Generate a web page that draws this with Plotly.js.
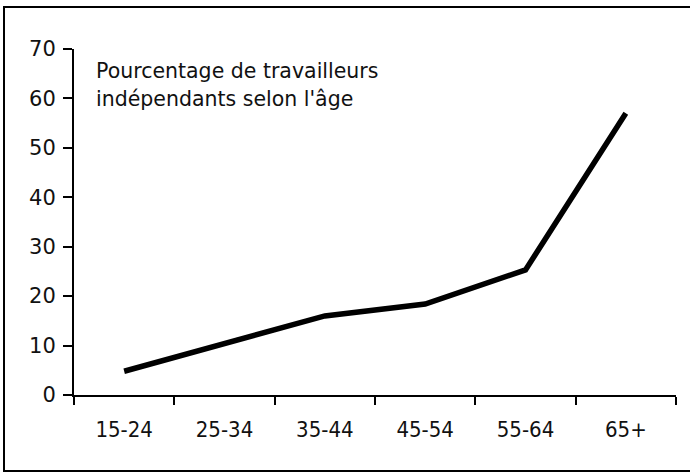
<!DOCTYPE html>
<html>
<head>
<meta charset="utf-8">
<script src="https://cdn.plot.ly/plotly-3.0.1.min.js"></script>
<style>
  html, body { margin: 0; padding: 0; overflow: hidden; background: #fff; }
  #chart { width: 690px; height: 472px; }
  #frame { position: absolute; left: 3px; top: 6px; width: 720px; height: 462px;
           border: 2px solid #000; pointer-events: none; }
</style>
</head>
<body>
<div id="chart"></div>
<div id="frame"></div>
<script>
const categories = ["15-24", "25-34", "35-44", "45-54", "55-64", "65+"];
const values = [4.8, 10.4, 16.0, 18.4, 25.3, 57.0];
const yTicks = [0, 10, 20, 30, 40, 50, 60, 70];
const titleLines = ["Pourcentage de travailleurs", "indépendants selon l'âge"];

const trace = {
  type: "scatter",
  mode: "lines",
  x: categories,
  y: values,
  line: { color: "#000", width: 5.5 },
  hoverinfo: "skip"
};

const layout = {
  width: 690,
  height: 472,
  margin: { l: 74, r: 14, t: 49, b: 77 },
  paper_bgcolor: "#fff",
  plot_bgcolor: "#fff",
  showlegend: false,
  xaxis: {
    type: "category",
    range: [-0.5, 5.5],
    tickson: "boundaries",
    ticks: "outside",
    ticklen: 8,
    tickwidth: 2,
    tickcolor: "#000",
    showline: true,
    linecolor: "#000",
    linewidth: 2,
    showgrid: false,
    zeroline: false,
    tickfont: { family: "DejaVu Sans Condensed, sans-serif", size: 22, color: "#111" },
    ticklabelstandoff: 14,
    fixedrange: true
  },
  yaxis: {
    range: [0, 70],
    tickvals: yTicks,
    ticktext: yTicks.map(String),
    ticks: "outside",
    ticklen: 9,
    tickwidth: 2,
    tickcolor: "#000",
    showline: true,
    linecolor: "#000",
    linewidth: 2,
    showgrid: false,
    zeroline: false,
    tickfont: { family: "DejaVu Sans, Verdana, sans-serif", size: 21, color: "#111" },
    ticklabelstandoff: 3,
    fixedrange: true
  },
  annotations: titleLines.map((t, i) => ({
    xref: "paper", yref: "paper",
    x: (94 - 74) / 602,
    y: (395 - (71 + i * 28)) / 346,
    xanchor: "left", yanchor: "middle",
    text: t,
    showarrow: false,
    font: { family: "DejaVu Sans, Verdana, sans-serif", size: 20.5, color: "#111" }
  }))
};

Plotly.newPlot("chart", [trace], layout, { staticPlot: true, displayModeBar: false });
</script>
</body>
</html>
